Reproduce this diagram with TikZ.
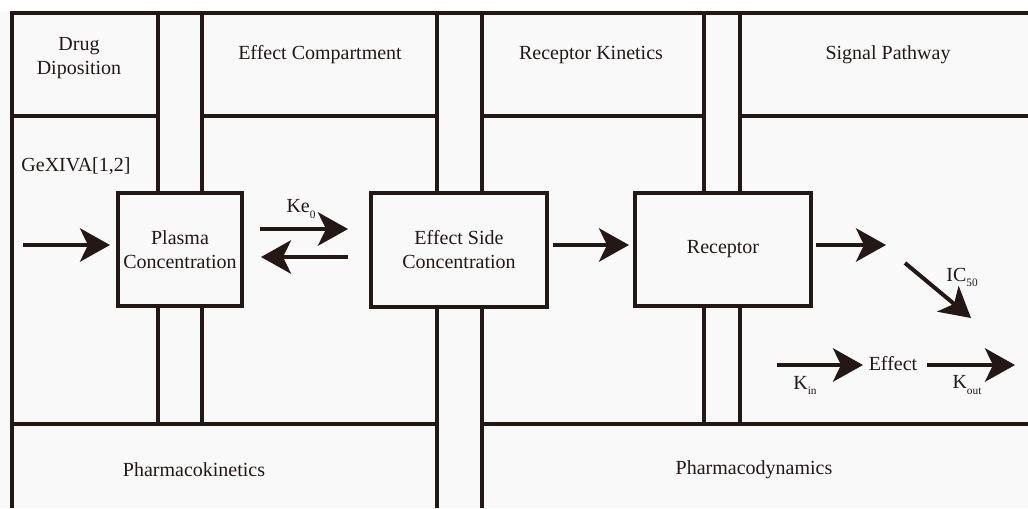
\documentclass[tikz,border=0pt]{standalone}
\usepackage{fontspec}
\setmainfont{Liberation Serif}
\usetikzlibrary{arrows.meta}
\definecolor{ink}{HTML}{231815}
\definecolor{bgc}{HTML}{F9F9F9}
\newcommand\lowsub[1]{\raisebox{-0.55ex}{\fontsize{8.5}{9}\selectfont #1}}
\begin{document}
\begin{tikzpicture}[x=0.75pt,y=-0.75pt,
  font=\fontsize{15}{18}\selectfont,
  frame/.style={draw=ink,line width=2.3pt},
  boxnode/.style={draw=ink,line width=2.3pt,fill=bgc,align=center,text=ink,inner sep=0pt},
  lbl/.style={text=ink,align=center,inner sep=0pt},
  arr/.style={draw=ink,line width=3pt,-{Stealth[length=22.5pt,width=25pt,inset=6pt]}}]
\useasboundingbox (0,0) rectangle (1028,508);
\fill[white] (0,0) rectangle (1028,508);
\fill[bgc] (0,12) rectangle (1028,508);

% outer frame
\draw[frame] (1028,13) -- (12,13) -- (12,508);
% header separators
\draw[frame] (12,116) -- (158,116);
\draw[frame] (202,116) -- (437,116);
\draw[frame] (482,116) -- (704,116);
\draw[frame] (740,116) -- (1028,116);
% bottom separators
\draw[frame] (12,424) -- (437,424);
\draw[frame] (482,424) -- (1028,424);

% boxes
\node[boxnode,minimum width=93pt,minimum height=84.75pt] (plasma) at (180,249.5) {Plasma\\Concentration};
\node[boxnode,minimum width=132pt,minimum height=85.5pt] (esc) at (459,250) {Effect Side\\Concentration};
\node[boxnode,minimum width=132pt,minimum height=84.75pt] (rec) at (723,249.5) {Receptor};

% vertical column pairs
\draw[frame] (158,13) -- (158,193) (202,13) -- (202,193);
\draw[frame] (158,306) -- (158,424) (202,306) -- (202,424);
\draw[frame] (437,13) -- (437,193) (482,13) -- (482,193);
\draw[frame] (437,307) -- (437,508) (482,307) -- (482,508);
\draw[frame] (704,13) -- (704,193) (740,13) -- (740,193);
\draw[frame] (704,306) -- (704,424) (740,306) -- (740,424);

% header labels
\node[lbl] (drug) at (79,58.5) {Drug\\Diposition};
\node[lbl] (effcomp) at (320,55) {Effect Compartment};
\node[lbl] (reckin) at (591,55) {Receptor Kinetics};
\node[lbl] (signal) at (888,55) {Signal Pathway};
\node[lbl] (pk) at (194,470) {Pharmacokinetics};
\node[lbl] (pd) at (754,470) {Pharmacodynamics};
\node[lbl] (gex) at (76,166) {GeXIVA[1,2]};

% arrows
\coordinate (a0) at (23,245);
\coordinate (a1) at (110,245);
\draw[arr] (a0) -- (a1);
\coordinate (k1s) at (260,229);
\coordinate (k1e) at (348,229);
\draw[arr] (k1s) -- (k1e);
\coordinate (k2s) at (348,257);
\coordinate (k2e) at (261,257);
\draw[arr] (k2s) -- (k2e);
\node[lbl] (ke) at (301,209) {Ke\lowsub{0}};
\coordinate (e1s) at (553,245);
\coordinate (e1e) at (629,245);
\draw[arr] (e1s) -- (e1e);
\coordinate (r1s) at (816,245);
\coordinate (r1e) at (886,245);
\draw[arr] (r1s) -- (r1e);
\coordinate (d1s) at (905,263);
\coordinate (d1e) at (971,318);
\draw[arr] (d1s) -- (d1e);
\node[lbl] (ic) at (962,277) {IC\lowsub{50}};

\node[lbl] (effect) at (893,364) {Effect};
\coordinate (f1s) at (777,365);
\coordinate (f1e) at (863,365);
\draw[arr] (f1s) -- (f1e);
\coordinate (f2s) at (927,365);
\coordinate (f2e) at (1015,365);
\draw[arr] (f2s) -- (f2e);
\node[lbl] (kin) at (805,385) {K\lowsub{in}};
\node[lbl] (kout) at (967,385) {K\lowsub{out}};
\end{tikzpicture}
\end{document}
